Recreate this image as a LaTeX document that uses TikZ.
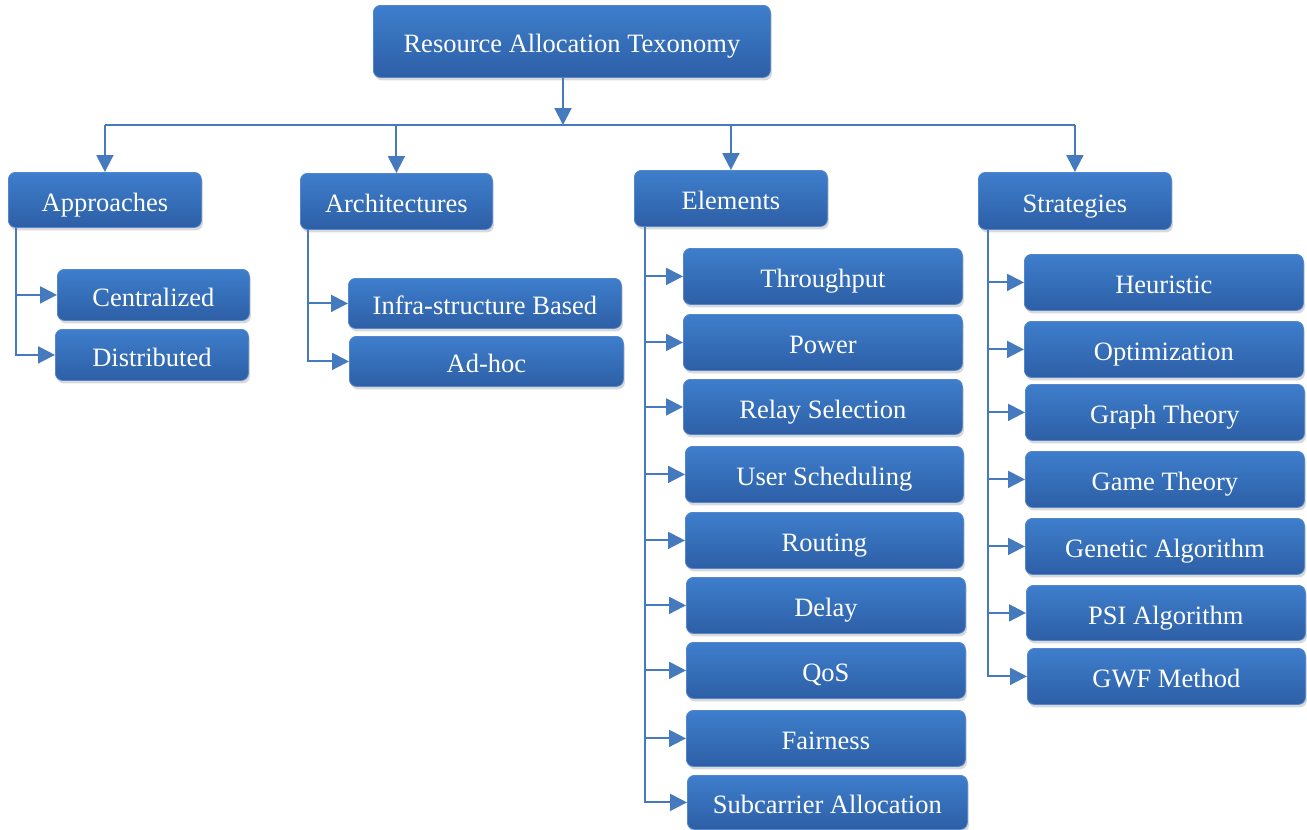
\documentclass[tikz,border=0pt]{standalone}
\usepackage{fontspec}
\setmainfont{Liberation Serif}
\usetikzlibrary{shadows,arrows.meta,calc}
\definecolor{boxtop}{RGB}{62,126,204}
\definecolor{boxbot}{RGB}{45,95,166}
\definecolor{boxedge}{RGB}{84,134,204}
\definecolor{conn}{RGB}{70,122,190}
\newcommand\bxnode[6]{\node[bx, minimum width=#4pt, minimum height=#5pt] (#1) at (#2,#3) {#6};}
\begin{document}
\begin{tikzpicture}[x=1pt,y=-1pt,
  bx/.style={draw=boxedge, line width=0.8pt, rounded corners=7pt,
    top color=boxtop, bottom color=boxbot, text=white,
    font=\fontsize{26.5}{30}\selectfont, inner sep=0pt,
    text height=23pt, text depth=0pt, anchor=north west,
    drop shadow={shadow xshift=1.5pt, shadow yshift=-3pt, opacity=0.3, fill=black!50}},
  ln/.style={draw=conn, line width=2pt},
  arr/.style={ln, -{Triangle[length=17pt,width=17pt]}}]
\useasboundingbox (0,0) rectangle (1307,830);
% root and categories
\bxnode{root}{373}{5}{397}{72}{Resource Allocation Texonomy}
\bxnode{appr}{8}{172}{193}{55}{Approaches}
\bxnode{arch}{300}{173}{192}{56}{Architectures}
\bxnode{elem}{634}{170}{193}{56}{Elements}
\bxnode{strat}{978}{172}{193}{57}{Strategies}
% approaches
\bxnode{cent}{57}{269}{192}{51}{Centralized}
\bxnode{dist}{55}{329}{193}{51}{Distributed}
% architectures
\bxnode{infra}{348}{278}{273}{50}{Infra-structure Based}
\bxnode{adhoc}{349}{336}{274}{50}{Ad-hoc}
% elements
\bxnode{thr}{683}{248}{279}{56}{Throughput}
\bxnode{pow}{683}{314}{279}{56}{Power}
\bxnode{rel}{683}{379}{279}{55}{Relay Selection}
\bxnode{usr}{685}{446}{278}{56}{User Scheduling}
\bxnode{rout}{685}{512}{278}{56}{Routing}
\bxnode{del}{686}{577}{279}{56}{Delay}
\bxnode{qos}{686}{642}{279}{56}{QoS}
\bxnode{fair}{686}{710}{279}{56}{Fairness}
\bxnode{sub}{687}{775}{280}{54}{Subcarrier Allocation}
% strategies
\bxnode{heur}{1024}{254}{279}{56}{Heuristic}
\bxnode{opt}{1024}{321}{279}{56}{Optimization}
\bxnode{graph}{1025}{384}{279}{56}{Graph Theory}
\bxnode{game}{1025}{451}{279}{56}{Game Theory}
\bxnode{gen}{1025}{518}{279}{56}{Genetic Algorithm}
\bxnode{psi}{1026}{585}{279}{55}{PSI Algorithm}
\bxnode{gwf}{1027}{648}{278}{56}{GWF Method}
% top connectors
\coordinate (rt) at (563,125);
\draw[arr] (root.south -| rt) -- (rt);
\draw[ln] (appr.north |- rt) -- (strat.north |- rt);
\foreach \n in {appr,arch,elem,strat}
  \draw[arr] (\n.north |- rt) -- (\n.north);
% branches
\coordinate (ax) at (16,0);
\draw[arr] (ax |- appr.south) |- (dist.west);
\draw[arr] (ax |- cent.west) -- (cent.west);
\coordinate (bx) at (308,0);
\draw[arr] (bx |- arch.south) |- (adhoc.west);
\draw[arr] (bx |- infra.west) -- (infra.west);
\coordinate (ex) at (645,0);
\draw[arr] (ex |- elem.south) |- (sub.west);
\foreach \n in {thr,pow,rel,usr,rout,del,qos,fair}
  \draw[arr] (ex |- \n.west) -- (\n.west);
\coordinate (sx) at (988,0);
\draw[arr] (sx |- strat.south) |- (gwf.west);
\foreach \n in {heur,opt,graph,game,gen,psi}
  \draw[arr] (sx |- \n.west) -- (\n.west);
\end{tikzpicture}
\end{document}
